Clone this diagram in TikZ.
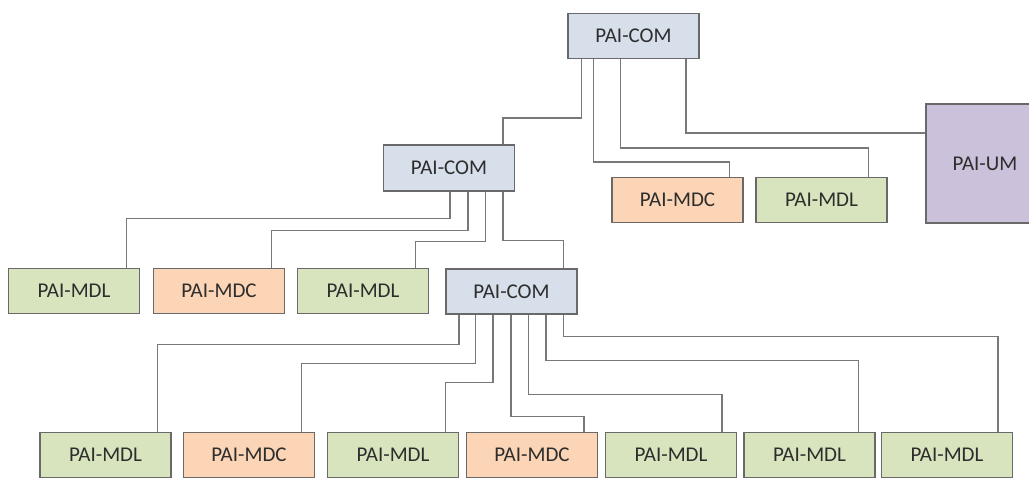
\documentclass[tikz,border=0pt]{standalone}
\usepackage{fontspec}
\setmainfont{Carlito}
\definecolor{comfill}{RGB}{214,223,234}
\definecolor{mdcfill}{RGB}{251,213,181}
\definecolor{mdlfill}{RGB}{215,228,189}
\definecolor{umfill}{RGB}{204,193,218}
\definecolor{boxline}{RGB}{105,105,105}
\definecolor{wire}{RGB}{120,120,120}
\definecolor{txt}{RGB}{45,45,45}
\tikzset{
  box/.style={draw=boxline, line width=1.5pt, rectangle, inner sep=0pt,
    minimum width=131pt, minimum height=45pt, text=txt,
    font=\fontsize{21}{25}\selectfont},
  com/.style={box, fill=comfill},
  mdc/.style={box, fill=mdcfill},
  mdl/.style={box, fill=mdlfill},
  um/.style={box, fill=umfill, minimum width=118pt, minimum height=119pt},
  wire/.style={draw=wire, line width=1.5pt}
}
\begin{document}
\begin{tikzpicture}[x=1pt, y=-1pt]
\useasboundingbox (0,0) rectangle (1029,478);
% level 0
\node[com] (t) at (633.5,35.8) {PAI-COM};
% level 1
\node[com, minimum height=46pt] (m) at (449,168) {PAI-COM};
\node[mdc] (r1) at (677.5,200) {PAI-MDC};
\node[mdl] (r2) at (821.5,200) {PAI-MDL};
\node[um] (u) at (985,163.5) {PAI-UM};
% level 2
\node[mdl] (a1) at (74,291) {PAI-MDL};
\node[mdc] (a2) at (219,291) {PAI-MDC};
\node[mdl] (a3) at (363,291) {PAI-MDL};
\node[com] (c) at (511.5,291.5) {PAI-COM};
% level 3
\node[mdl] (b1) at (105.5,455) {PAI-MDL};
\node[mdc] (b2) at (249,455) {PAI-MDC};
\node[mdl] (b3) at (393,455) {PAI-MDL};
\node[mdc] (b4) at (532,455) {PAI-MDC};
\node[mdl] (b5) at (671,455) {PAI-MDL};
\node[mdl] (b6) at (809.5,455) {PAI-MDL};
\node[mdl] (b7) at (947,455) {PAI-MDL};
% connectors from top COM
\draw[wire] ([xshift=14pt]t.south west) -- ++(0,59) -| ([xshift=120pt]m.north west);
\draw[wire] ([xshift=26pt]t.south west) -- ++(0,103) -| ([xshift=118pt]r1.north west);
\draw[wire] ([xshift=53pt]t.south west) -- ++(0,89) -| ([xshift=113pt]r2.north west);
\draw[wire] ([xshift=118.5pt]t.south west) -- ++(0,74) coordinate (tu) -- (tu -| u.west);
% connectors from middle COM
\draw[wire] ([xshift=67pt]m.south west) -- ++(0,27) -| ([xshift=118.5pt]a1.north west);
\draw[wire] ([xshift=85pt]m.south west) -- ++(0,39) -| ([xshift=118.5pt]a2.north west);
\draw[wire] ([xshift=102.5pt]m.south west) -- ++(0,50) -| ([xshift=118.5pt]a3.north west);
\draw[wire] ([xshift=120pt]m.south west) -- ++(0,49) -| ([xshift=118pt]c.north west);
% connectors from lower COM
\draw[wire] ([xshift=13.5pt]c.south west) -- ++(0,30) -| ([xshift=118pt]b1.north west);
\draw[wire] ([xshift=30pt]c.south west) -- ++(0,49) -| ([xshift=118.5pt]b2.north west);
\draw[wire] ([xshift=47.5pt]c.south west) -- ++(0,68) -| ([xshift=118.5pt]b3.north west);
\draw[wire] ([xshift=65.5pt]c.south west) -- ++(0,102) -| ([xshift=118pt]b4.north west);
\draw[wire] ([xshift=83pt]c.south west) -- ++(0,80) -| ([xshift=117pt]b5.north west);
\draw[wire] ([xshift=100.5pt]c.south west) -- ++(0,46) -| ([xshift=115pt]b6.north west);
\draw[wire] ([xshift=118pt]c.south west) -- ++(0,22) -| ([xshift=117pt]b7.north west);
\end{tikzpicture}
\end{document}
